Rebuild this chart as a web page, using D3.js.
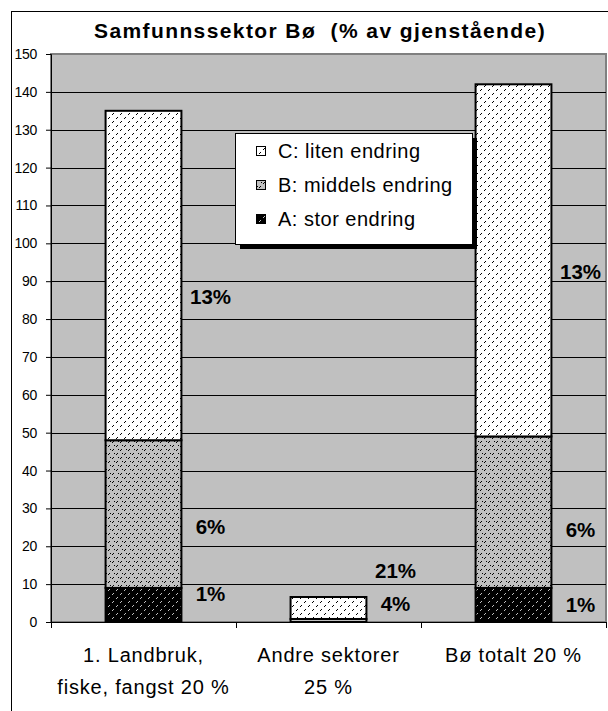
<!DOCTYPE html>
<html>
<head>
<meta charset="utf-8">
<script src="https://cdn.jsdelivr.net/npm/d3@7"></script>
<style>
  body { margin: 0; background: #fff; }
  text { font-family: Arial, "Liberation Sans", sans-serif; }
</style>
</head>
<body>
<div class="chart"></div>
<script>
// chart values
var categories = ["1. Landbruk, fiske, fangst 20 %", "Andre sektorer 25 %", "Bø totalt 20 %"];
var categoryLines = [["1. Landbruk,", "fiske, fangst 20 %"], ["Andre sektorer", "25 %"], ["Bø totalt 20 %"]];
var seriesNames = ["A: stor endring", "B: middels endring", "C: liten endring"];
var valuesA = [9, 0, 9];
var valuesB = [39, 0.8, 40];
var valuesC = [87, 5.8, 93];
var labelsA = ["1%", "", "1%"];
var labelsB = ["6%", "4%", "6%"];
var labelsC = ["13%", "21%", "13%"];
var yTicks = d3.range(0, 151, 10);

// where the data labels sit (value units), as placed in the original
var labelAtA = [7.4, 0, 4.5];
var labelAtB = [25.3, 4.8, 24.5];
var labelAtC = [85.8, 13.7, 92.4];

//Width and height
var w = 608;
var h = 711;
var plotL = 51, plotR = 606, plotT = 54, plotB = 622;

var svg = d3.select(".chart")
            .append("svg")
            .attr("width", w)
            .attr("height", h);

// fill patterns like the Excel ones
var defs = svg.append("defs");
function dotPattern(id, bg, dot, pts) {
  var p = defs.append("pattern")
      .attr("id", id)
      .attr("width", 8)
      .attr("height", 8)
      .attr("patternUnits", "userSpaceOnUse");
  p.append("rect").attr("width", 8).attr("height", 8).attr("fill", bg);
  pts.forEach(function(d) {
    p.append("rect").attr("x", d[0]).attr("y", d[1]).attr("width", 1).attr("height", 1).attr("fill", dot);
  });
}
dotPattern("patC", "#ffffff", "#000", [[0, 2], [1, 1], [4, 6], [5, 5]]);
dotPattern("patB", "#c0c0c0", "#000", [[0, 2], [1, 1], [4, 6], [5, 5], [2, 5], [6, 1]]);
dotPattern("patA", "#000000", "#c0c0c0", [[0, 2], [1, 1], [4, 6], [5, 5]]);
var fills = ["url(#patA)", "url(#patB)", "url(#patC)"];

// outer chart border
svg.append("rect")
   .attr("x", 11.5).attr("y", 11.5)
   .attr("width", 640).attr("height", 740)
   .attr("fill", "#fff")
   .attr("stroke", "#000");

// title
svg.append("text")
   .attr("x", 320)
   .attr("y", 38)
   .attr("text-anchor", "middle")
   .attr("font-size", 21)
   .attr("font-weight", "bold")
   .attr("letter-spacing", 1.4)
   .style("white-space", "pre")
   .text("Samfunnssektor Bø  (% av gjenstående)");

var x = d3.scaleBand().domain(categories).range([plotL, plotR]);
var y = d3.scaleLinear().domain([0, 150]).range([plotB, plotT]);

// plot area
svg.append("rect")
   .attr("x", plotL).attr("y", plotT)
   .attr("width", plotR - plotL).attr("height", plotB - plotT)
   .attr("fill", "#c0c0c0")
   .attr("stroke", "#808080")
   .attr("stroke-width", 2);

// gridlines
svg.selectAll("line.grid")
   .data(yTicks.slice(1, -1))
   .enter()
   .append("line")
   .attr("class", "grid")
   .attr("x1", plotL).attr("x2", plotR)
   .attr("y1", function(d) { return Math.round(y(d)) + 0.5; })
   .attr("y2", function(d) { return Math.round(y(d)) + 0.5; })
   .attr("stroke", "#000");

// y axis
var yAxis = svg.append("g")
   .attr("transform", "translate(" + plotL + ",0)")
   .call(d3.axisLeft(y).tickValues(yTicks).tickSize(5).tickPadding(9));
yAxis.select(".domain").attr("stroke", "#000");
yAxis.selectAll("text")
     .attr("font-size", 14)
     .attr("letter-spacing", -0.3)
     .attr("font-family", "Arial, 'Liberation Sans', sans-serif");

// x axis
var xAxis = svg.append("g")
   .attr("transform", "translate(0," + plotB + ")")
   .call(d3.axisBottom(x).tickSize(0).tickFormat(""));
xAxis.select(".domain").attr("stroke", "#000");
svg.selectAll("line.xtick")
   .data([plotL].concat(categories.map(function(c) { return x(c) + x.bandwidth(); })))
   .enter()
   .append("line")
   .attr("class", "xtick")
   .attr("x1", function(d) { return Math.round(d) + 0.5; })
   .attr("x2", function(d) { return Math.round(d) + 0.5; })
   .attr("y1", plotB).attr("y2", plotB + 6)
   .attr("stroke", "#000");

// category labels
categoryLines.forEach(function(lines, i) {
  var cx = x(categories[i]) + x.bandwidth() / 2;
  lines.forEach(function(t, j) {
    svg.append("text")
       .attr("x", cx)
       .attr("y", 662 + j * 32)
       .attr("text-anchor", "middle")
       .attr("font-size", 20)
       .attr("letter-spacing", 0.8)
       .text(t);
  });
});

// stacked bars
var stackData = categories.map(function(c, i) {
  return { cat: c, A: valuesA[i], B: valuesB[i], C: valuesC[i] };
});
var series = d3.stack().keys(["A", "B", "C"])(stackData);
var barW = x.bandwidth() * 0.41;

svg.selectAll("g.series")
   .data(series)
   .enter()
   .append("g")
   .attr("class", "series")
   .attr("fill", function(d, i) { return fills[i]; })
   .selectAll("rect")
   .data(function(d) { return d.filter(function(s) { return s[1] - s[0] > 0; }); })
   .enter()
   .append("rect")
   .attr("x", function(d) { return x(d.data.cat) + (x.bandwidth() - barW) / 2; })
   .attr("y", function(d) { return y(d[1]); })
   .attr("width", barW)
   .attr("height", function(d) { return y(d[0]) - y(d[1]); })
   .attr("stroke", "#000")
   .attr("stroke-width", 2);

// data labels
var labelSets = [[labelsA, labelAtA], [labelsB, labelAtB], [labelsC, labelAtC]];
labelSets.forEach(function(set) {
  categories.forEach(function(c, i) {
    if (!set[0][i]) return;
    svg.append("text")
       .attr("x", x(c) + x.bandwidth() / 2 + 67)
       .attr("y", y(set[1][i]))
       .attr("dy", "0.36em")
       .attr("text-anchor", "middle")
       .attr("font-size", 20.5)
       .attr("font-weight", "bold")
       .text(set[0][i]);
  });
});

// legend
var lg = svg.append("g").attr("transform", "translate(235,133)");
lg.append("rect").attr("x", 5).attr("y", 5).attr("width", 237).attr("height", 111).attr("fill", "#000");
lg.append("rect").attr("x", 0.5).attr("y", 0.5).attr("width", 237).attr("height", 111)
  .attr("fill", "#fff").attr("stroke", "#000");
var legendOrder = [2, 1, 0];
lg.selectAll("g.item")
  .data(legendOrder)
  .enter()
  .append("g")
  .attr("class", "item")
  .attr("transform", function(d, i) { return "translate(0," + (18 + i * 34) + ")"; })
  .each(function(d) {
    var g = d3.select(this);
    g.append("rect")
     .attr("x", 21.5).attr("y", -4.5)
     .attr("width", 9).attr("height", 9)
     .attr("fill", fills[d])
     .attr("stroke", "#000");
    g.append("text")
     .attr("x", 43)
     .attr("dy", "0.36em")
     .attr("font-size", 20)
     .attr("letter-spacing", 0.5)
     .text(seriesNames[d]);
  });
</script>
</body>
</html>
